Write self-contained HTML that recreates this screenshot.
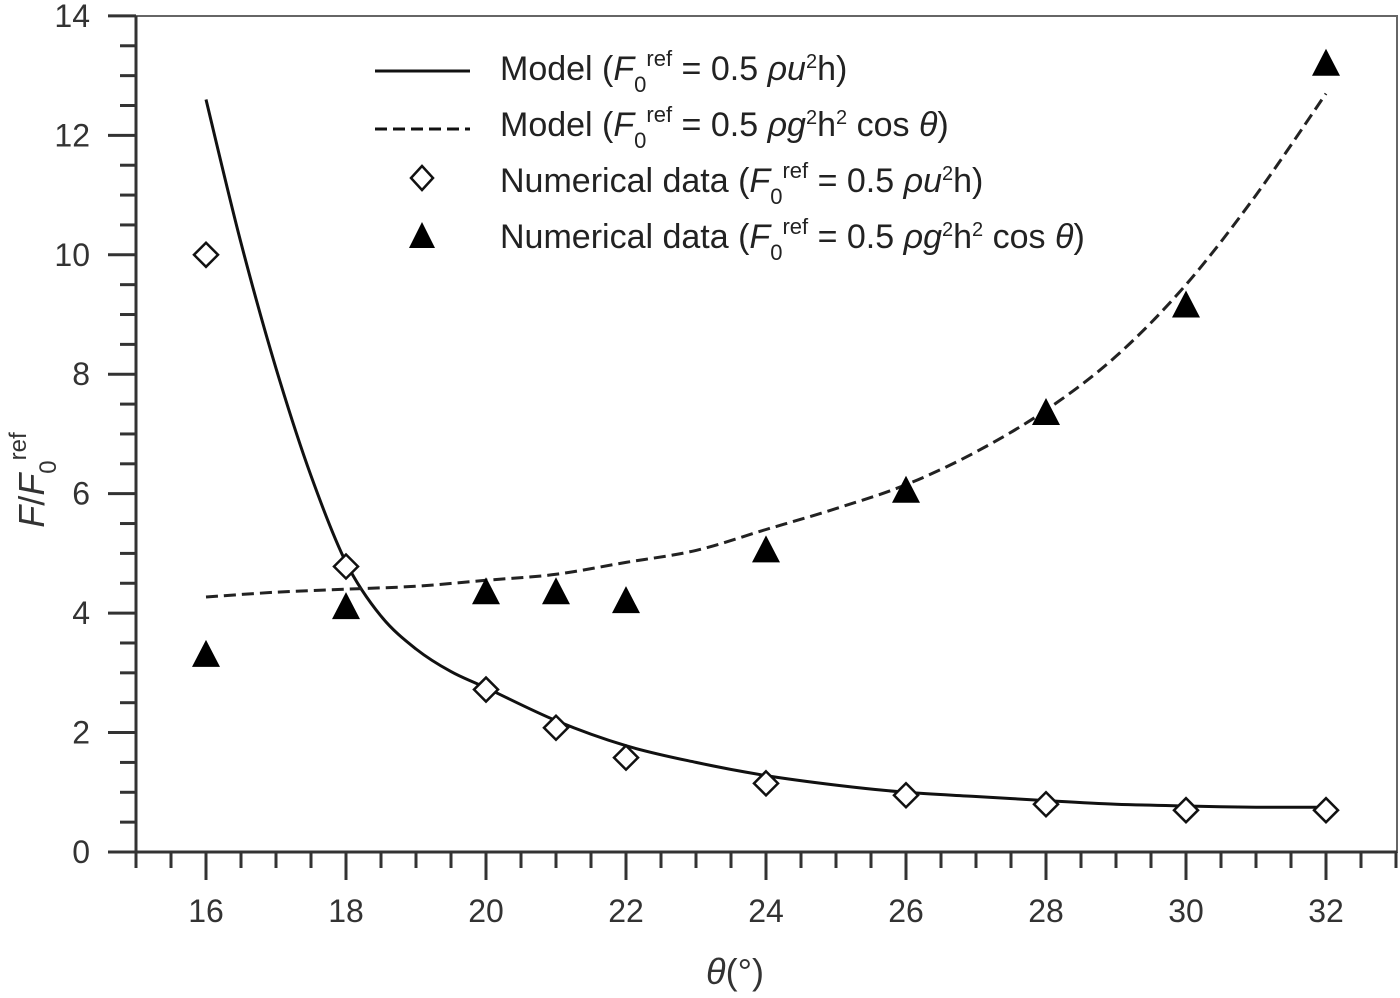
<!DOCTYPE html>
<html><head><meta charset="utf-8"><style>
html,body{margin:0;padding:0;background:#fff;}
svg{display:block;font-family:"Liberation Sans",sans-serif;}
</style></head><body>
<svg id="chart" width="1400" height="998" viewBox="0 0 1400 998" xmlns="http://www.w3.org/2000/svg">
<rect x="136" y="16" width="1261" height="836" fill="none" stroke="#666" stroke-width="2"/>
<g id="axes"></g>
<g id="marks"></g>
<g font-size="34" fill="#222">
  <line x1="375" y1="71" x2="470" y2="71" stroke="#111" stroke-width="3"/>
  <line x1="375" y1="129" x2="470" y2="129" stroke="#111" stroke-width="3" stroke-dasharray="12,6"/>
  <polygon points="422,166 433,178 422,190 411,178" fill="#fff" stroke="#111" stroke-width="2.5"/>
  <polygon points="422,222 435,248 409,248" fill="#000"/>
  <text x="500" y="80">Model (<tspan font-style="italic">F</tspan><tspan font-size="22" dy="12">0</tspan><tspan font-size="22" dy="-26">ref</tspan><tspan dy="14"> = 0.5 </tspan><tspan font-style="italic">ρu</tspan><tspan font-size="20" dy="-12">2</tspan><tspan dy="12">h)</tspan></text>
  <text x="500" y="136">Model (<tspan font-style="italic">F</tspan><tspan font-size="22" dy="12">0</tspan><tspan font-size="22" dy="-26">ref</tspan><tspan dy="14"> = 0.5 </tspan><tspan font-style="italic">ρg</tspan><tspan font-size="20" dy="-12">2</tspan><tspan dy="12">h</tspan><tspan font-size="20" dy="-12">2</tspan><tspan dy="12"> cos </tspan><tspan font-style="italic">θ</tspan>)</text>
  <text x="500" y="192">Numerical data (<tspan font-style="italic">F</tspan><tspan font-size="22" dy="12">0</tspan><tspan font-size="22" dy="-26">ref</tspan><tspan dy="14"> = 0.5 </tspan><tspan font-style="italic">ρu</tspan><tspan font-size="20" dy="-12">2</tspan><tspan dy="12">h)</tspan></text>
  <text x="500" y="248">Numerical data (<tspan font-style="italic">F</tspan><tspan font-size="22" dy="12">0</tspan><tspan font-size="22" dy="-26">ref</tspan><tspan dy="14"> = 0.5 </tspan><tspan font-style="italic">ρg</tspan><tspan font-size="20" dy="-12">2</tspan><tspan dy="12">h</tspan><tspan font-size="20" dy="-12">2</tspan><tspan dy="12"> cos </tspan><tspan font-style="italic">θ</tspan>)</text>
</g>
<text x="735" y="984" font-size="36" text-anchor="middle" fill="#333"><tspan font-style="italic">θ</tspan>(°)</text>
<text transform="translate(44,480) rotate(-90)" font-size="36" text-anchor="middle" fill="#333"><tspan font-style="italic">F</tspan>/<tspan font-style="italic">F</tspan><tspan font-size="24" dy="12">0</tspan><tspan font-size="24" dy="-30">ref</tspan></text>
</svg>
<script>
const xTicks = [16,18,20,22,24,26,28,30,32];
const yTicks = [0,2,4,6,8,10,12,14];
const dataX = [16,18,20,21,22,24,26,28,30,32];
const diamondY = [10.0,4.78,2.72,2.08,1.58,1.15,0.95,0.8,0.7,0.7];
const triangleY = [3.3,4.1,4.35,4.35,4.2,5.05,6.05,7.35,9.15,13.2];
const solidX = [16,16.5,17,17.5,18,18.5,19,19.5,20,21,22,23,24,25,26,27,28,29,30,31,32];
const solidY = [12.6,10.2,8.1,6.3,4.85,3.95,3.4,3.02,2.75,2.2,1.78,1.5,1.28,1.12,1.0,0.93,0.86,0.8,0.77,0.75,0.75];
const dashX = [16,17,18,19,20,21,22,23,24,25,26,27,28,29,30,31,32];
const dashY = [4.27,4.35,4.4,4.45,4.55,4.65,4.85,5.05,5.4,5.75,6.15,6.7,7.4,8.3,9.5,11.0,12.7];

const NS="http://www.w3.org/2000/svg";
const xs = v => 136 + (v-15)*70;
const ys = v => 852 - v*59.72;
const axes=document.getElementById('axes'), marks=document.getElementById('marks');
function mk(tag, attrs, parent){const e=document.createElementNS(NS,tag);for(const k in attrs)e.setAttribute(k,attrs[k]);parent.appendChild(e);return e;}
mk('line',{x1:122,y1:852,x2:1397,y2:852,stroke:'#333','stroke-width':3},axes);
mk('line',{x1:136,y1:16,x2:136,y2:866,stroke:'#333','stroke-width':3},axes);
for(let v=15; v<=33.01; v+=0.5){
  const major = xTicks.includes(v);
  const t=mk('line',{x1:xs(v),y1:852,x2:xs(v),y2:852+(major?28:16),stroke:'#333','stroke-width':3},axes);
  
  
}
for(let v=0; v<=14.01; v+=0.5){
  const major = yTicks.includes(v);
  const t=mk('line',{x1:136-(major?28:16),y1:ys(v),x2:136,y2:ys(v),stroke:'#333','stroke-width':3},axes);
  
  
}
xTicks.forEach(v=>{const t=mk('text',{x:xs(v),y:922,'font-size':32,'text-anchor':'middle',fill:'#333'},axes);t.textContent=v;
  
  });
yTicks.forEach(v=>{const t=mk('text',{x:90,y:ys(v)+11,'font-size':32,'text-anchor':'end',fill:'#333'},axes);t.textContent=v;
  
  });
function pathOf(X,Y){
  const P=X.map((x,i)=>[xs(x),ys(Y[i])]);
  let d='M'+P[0][0].toFixed(1)+','+P[0][1].toFixed(1);
  for(let i=0;i<P.length-1;i++){
    const p0=P[Math.max(i-1,0)],p1=P[i],p2=P[i+1],p3=P[Math.min(i+2,P.length-1)];
    const c1=[p1[0]+(p2[0]-p0[0])/6,p1[1]+(p2[1]-p0[1])/6];
    const c2=[p2[0]-(p3[0]-p1[0])/6,p2[1]-(p3[1]-p1[1])/6];
    d+=` C${c1[0].toFixed(1)},${c1[1].toFixed(1)} ${c2[0].toFixed(1)},${c2[1].toFixed(1)} ${p2[0].toFixed(1)},${p2[1].toFixed(1)}`;
  }
  return d;
}
const s=mk('path',{d:pathOf(solidX,solidY),fill:'none',stroke:'#111','stroke-width':3,'stroke-linejoin':'round'},marks);


const d=mk('path',{d:pathOf(dashX,dashY),fill:'none',stroke:'#222','stroke-width':3,'stroke-dasharray':'12,6'},marks);


dataX.forEach((x,i)=>{
  const cx=xs(x), cy=ys(diamondY[i]);
  const p=mk('polygon',{points:`${cx},${cy-12} ${cx+12},${cy} ${cx},${cy+12} ${cx-12},${cy}`,fill:'#fff',stroke:'#111','stroke-width':2.5},marks);
  
  
  const ty=ys(triangleY[i]);
  const t=mk('polygon',{points:`${cx},${ty-15} ${cx+14},${ty+12} ${cx-14},${ty+12}`,fill:'#000'},marks);
  
  
});
</script>
</body></html>
